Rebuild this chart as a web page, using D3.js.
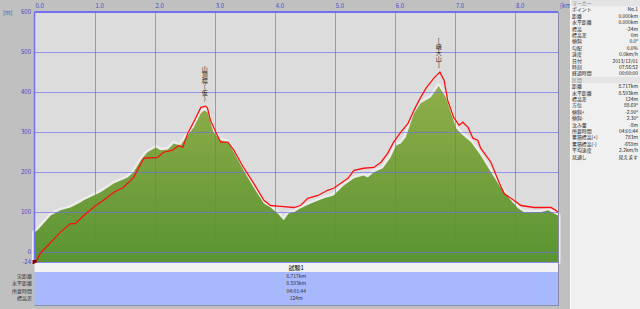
<!DOCTYPE html>
<html><head><meta charset="utf-8">
<script src="https://cdn.jsdelivr.net/npm/d3@7"></script>
<style>body{margin:0;background:#c0c0c0;overflow:hidden}svg{display:block}text{font-family:"Noto Sans CJK JP","DejaVu Sans",sans-serif}</style>
</head><body><svg id="c" width="640" height="309"></svg>
<script>
// ---- data ----
const terrainKm = [0,0.05,0.27,0.43,0.6,0.77,0.82,1.1,1.32,1.55,1.65,1.77,1.88,2.02,2.1,2.22,2.32,2.43,2.52,2.65,2.77,2.83,2.88,2.98,3.1,3.22,3.32,3.48,3.65,3.82,3.93,4.05,4.15,4.23,4.32,4.43,4.6,4.82,4.98,5.15,5.32,5.48,5.55,5.65,5.8,5.93,6.02,6.1,6.18,6.32,6.43,6.6,6.73,6.85,7.02,7.1,7.27,7.43,7.6,7.77,7.93,8.05,8.15,8.43,8.55,8.717];
const terrainM  = [50,55,92,105,112,125,130,150,172,187,200,230,250,262,255,257,272,267,287,312,347,355,350,300,280,275,250,205,162,122,112,97,80,97,100,110,122,135,142,167,185,192,187,200,210,237,267,272,287,347,372,387,415,387,310,297,275,242,200,160,130,110,100,100,105,92];
const trackKm = [0,0.02,0.1,0.27,0.43,0.6,0.68,0.82,1.02,1.15,1.32,1.48,1.65,1.82,2.05,2.15,2.3,2.4,2.47,2.55,2.65,2.77,2.85,2.88,2.93,3.02,3.1,3.22,3.32,3.48,3.65,3.82,3.93,4.1,4.32,4.43,4.55,4.72,4.88,4.98,5.22,5.32,5.48,5.65,5.77,5.88,5.98,6.1,6.22,6.32,6.43,6.52,6.65,6.75,6.82,6.88,6.98,7.07,7.13,7.22,7.3,7.38,7.43,7.6,7.72,7.82,7.98,8.1,8.32,8.6,8.68,8.717];
const trackM  = [-24,-24,-2,25,50,72,72,92,117,130,150,162,187,235,237,250,255,267,262,297,325,362,365,360,330,300,275,275,255,212,172,130,117,115,112,117,135,142,155,160,185,205,210,212,225,247,275,300,322,355,387,410,435,450,430,380,337,317,325,312,285,280,260,225,180,147,130,117,112,112,105,100];
const xTicks = [0,1,2,3,4,5,6,7,8];
const xTickLabels = ["0.0","1.0","2.0","3.0","4.0","5.0","6.0","7.0","8.0"];
const yTicks = [-24,0,100,200,300,400,500,600];
const peakKm = [2.85, 6.75];
const peakM = [365, 450];
const peakNames = ["山頂標(仮)", "[峨大山]"];
const seriesName = "試験1";
const summaryLabels = ["実距離","水平距離","所要時間","標高差"];
const summaryValues = ["8.717km","8.593km","04:01:44","124m"];
const markerLabels = ["ポイント","距離","水平距離","標高","標高差","傾斜","勾配","速度","日付","時刻","経過時間"];
const markerValues = ["No.1","0.000km","0.000km","-24m","0m","0.0°","0.0%","0.0km/h","2013/12/01","07:56:52","00:00:00"];
const sectionLabels = ["距離","水平距離","標高差","方位","傾斜+","傾斜-","沈み量","所要時間","累積標高(+)","累積標高(-)","平均速度","見通し"];
const sectionValues = ["8.717km","8.593km","124m","88.69°","-2.90°","2.30°","-8m","04:01:44","783m","-659m","2.2km/h","見えます"];

// ---- layout ----
const svg = d3.select("#c");
const L = 34.5, R = 558, T = 12, B = 262;
const x = d3.scaleLinear().domain([0, 8.717]).range([L, R]);
const y = d3.scaleLinear().domain([-24, 600]).range([B, T]);

svg.append("rect").attr("width",640).attr("height",309).attr("fill","#c0c0c0");
svg.append("rect").attr("x",L).attr("y",T).attr("width",R-L).attr("height",B-T).attr("fill","#dcdcdc");

const defs = svg.append("defs");
const g = defs.append("linearGradient").attr("id","gr").attr("gradientUnits","userSpaceOnUse")
  .attr("x1",0).attr("x2",0).attr("y1",T).attr("y2",B);
g.append("stop").attr("offset","0").attr("stop-color","#b4c468");
g.append("stop").attr("offset","0.35").attr("stop-color","#8cac48");
g.append("stop").attr("offset","1").attr("stop-color","#5a9432");

const terr = terrainKm.map((k,i)=>[k,terrainM[i]]);
const area = d3.area().x(d=>x(d[0])).y0(B).y1(d=>y(d[1]));
svg.append("path").datum(terr).attr("d",area).attr("fill","none").attr("stroke","#ececec").attr("stroke-width",5).attr("stroke-linejoin","round");
svg.append("path").datum(terr).attr("d",area).attr("fill","url(#gr)");

// grid
const grid = svg.append("g").attr("stroke","#6a6af0").attr("stroke-opacity",0.65).attr("stroke-width",1);
xTicks.slice(1).forEach(t=>grid.append("line").attr("x1",Math.round(x(t))+0.5).attr("x2",Math.round(x(t))+0.5).attr("y1",T).attr("y2",B));
yTicks.slice(1).forEach(t=>grid.append("line").attr("x1",L).attr("x2",R).attr("y1",Math.round(y(t))+0.5).attr("y2",Math.round(y(t))+0.5));

// border
svg.append("line").attr("x1",L).attr("x2",R).attr("y1",T).attr("y2",T).attr("stroke","#7070f0").attr("stroke-width",2);
svg.append("line").attr("x1",L).attr("x2",L).attr("y1",T).attr("y2",B).attr("stroke","#7070f0").attr("stroke-width",1.5);
svg.append("line").attr("x1",R+0.5).attr("x2",R+0.5).attr("y1",T).attr("y2",B+44).attr("stroke","#8a8aa8").attr("stroke-width",1);
svg.append("line").attr("x1",L).attr("x2",R).attr("y1",B+0.5).attr("y2",B+0.5).attr("stroke","#8a8af0").attr("stroke-width",1);

// track line
const line = d3.line().x((d,i)=>x(trackKm[i])).y(d=>y(d));
svg.append("path").datum(trackM).attr("d",line).attr("fill","none").attr("stroke","#ff1010").attr("stroke-width",1.3);
svg.append("rect").attr("x",x(0)-2).attr("y",y(trackM[0])-2).attr("width",4).attr("height",4).attr("fill","#800000");

// axes labels
const ax = svg.append("g").attr("font-size",6).attr("fill","#4a4ac8");
xTicks.forEach((t,i)=>ax.append("text").attr("x",x(t)+1).attr("y",8).text(xTickLabels[i]));
ax.append("text").attr("x",560).attr("y",8).text("[km]");
yTicks.forEach(t=>ax.append("text").attr("x",31).attr("y",y(t)+2).attr("text-anchor","end").text(t));
ax.append("text").attr("x",3).attr("y",15).text("[m]");

// peak labels
peakKm.forEach((k,i)=>{
  svg.append("text").attr("x",x(k)-1).attr("y",y(peakM[i])-4)
    .attr("font-size",6).attr("fill","#202020").attr("text-anchor","end")
    .style("writing-mode","vertical-rl").style("text-orientation","upright")
    .text(peakNames[i]);
});

// summary table
svg.append("rect").attr("x",L).attr("y",B+1).attr("width",R-L).attr("height",9).attr("fill","#f2f2f2");
svg.append("rect").attr("x",L).attr("y",B+10).attr("width",R-L).attr("height",33).attr("fill","#a8b8fc");
svg.append("line").attr("x1",L).attr("x2",R).attr("y1",B+43.5).attr("y2",B+43.5).attr("stroke","#8890b0");
svg.append("text").attr("x",(L+R)/2).attr("y",B+8).attr("font-size",6).attr("text-anchor","middle").attr("fill","#000").text(seriesName);
summaryLabels.forEach((s,i)=>{
  svg.append("text").attr("x",32).attr("y",B+16+i*7.4).attr("font-size",5).attr("text-anchor","end").attr("fill","#303030").text(s);
  svg.append("text").attr("x",(L+R)/2).attr("y",B+16+i*7.4).attr("font-size",5).attr("text-anchor","middle").attr("fill","#303030").text(summaryValues[i]);
});

// right panel
const P = 570;
svg.append("rect").attr("x",P).attr("y",0).attr("width",640-P).attr("height",309).attr("fill","#f0f0f0");
svg.append("line").attr("x1",P+0.5).attr("x2",P+0.5).attr("y1",0).attr("y2",309).attr("stroke","#fafafa");
const rowH = 6.4;
function section(y0, title, labels, values){
  svg.append("rect").attr("x",P+1).attr("y",y0-5).attr("width",69).attr("height",rowH).attr("fill","#e4e4e4");
  svg.append("text").attr("x",P+2).attr("y",y0).attr("font-size",4.9).attr("fill","#8a8a8a").text(title);
  labels.forEach((s,i)=>{
    const yy = y0 + (i+1)*rowH;
    svg.append("text").attr("x",P+2).attr("y",yy).attr("font-size",4.9).attr("fill","#202020").text(s);
    svg.append("text").attr("x",638).attr("y",yy).attr("font-size",4.9).attr("text-anchor","end").attr("fill","#202020").text(values[i]);
  });
}
section(5, "マーカー", markerLabels, markerValues);
section(5+12*rowH, "区間", sectionLabels, sectionValues);
</script></body></html>
